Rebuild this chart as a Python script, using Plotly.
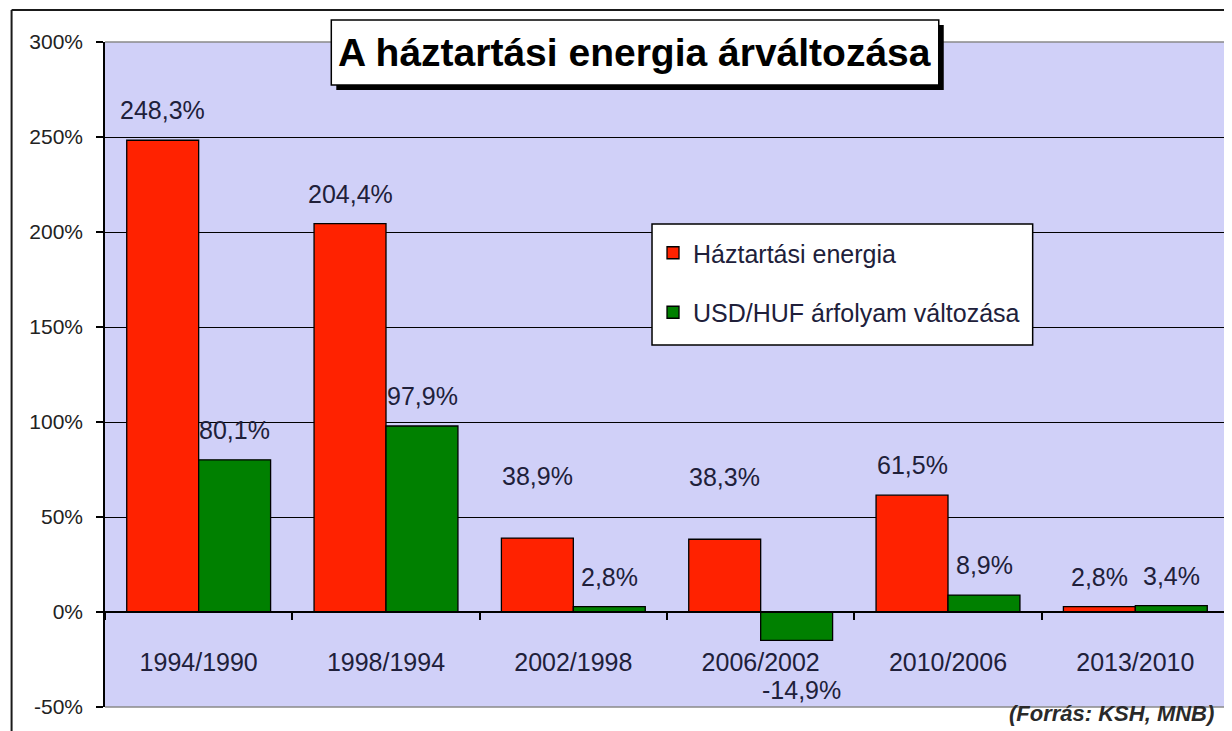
import plotly.graph_objects as go

categories = ["1994/1990", "1998/1994", "2002/1998", "2006/2002", "2010/2006", "2013/2010"]
energy = [248.3, 204.4, 38.9, 38.3, 61.5, 2.8]
usdhuf = [80.1, 97.9, 2.8, -14.9, 8.9, 3.4]
series_names = ["Háztartási energia", "USD/HUF árfolyam változása"]
y_ticks = [-50, 0, 50, 100, 150, 200, 250, 300]
y_ticktext = ["-50%", "0%", "50%", "100%", "150%", "200%", "250%", "300%"]
title_text = "A háztartási energia árváltozása"
source_text = "(Forrás: KSH, MNB)"

# label offsets (pixels) -- styling only
energy_label_shift = [14, 14, 46, 46, 14, 14]
usd_label_shift = [14, 14, 14, -34, 14, 14]

FONT = "Liberation Sans, Arial, sans-serif"
TXT = "#20203a"
RED = "#ff2200"
GREEN = "#008000"
PLOTBG = "#d0d0f8"

OFF = 8  # page body margin
# plot area in figure pixels
L, R, T, B = 104.5 - OFF, 1229.5 - OFF, 42.0 - OFF, 707.0 - OFF
def px(x):  # x in reference-picture pixels -> paper
    return (x - OFF - L) / (R - L)
def py(y):
    return (B - (y - OFF)) / (B - T)

fig = go.Figure()
fig.add_trace(go.Bar(x=categories, y=energy, name=series_names[0], legendgroup="a",
                     marker=dict(color=RED, line=dict(color="black", width=1.3))))
fig.add_trace(go.Bar(x=categories, y=usdhuf, name=series_names[1], legendgroup="b",
                     marker=dict(color=GREEN, line=dict(color="black", width=1.3))))

def fmt(v):
    return f"{v:.1f}".replace(".", ",") + "%"

annotations = []
for i, c in enumerate(categories):
    annotations.append(dict(x=c, y=energy[i], xref="x", yref="y", xshift=-36,
                            yshift=energy_label_shift[i], text=fmt(energy[i]), showarrow=False,
                            yanchor="bottom", font=dict(family=FONT, size=25, color=TXT)))
    neg = usdhuf[i] < 0
    annotations.append(dict(x=c, y=usdhuf[i], xref="x", yref="y", xshift=36 + (5 if neg else 0),
                            yshift=usd_label_shift[i], text=fmt(usdhuf[i]), showarrow=False,
                            yanchor="top" if neg else "bottom",
                            font=dict(family=FONT, size=25, color=TXT)))

annotations.append(dict(x=(px(331) + px(938)) / 2, y=(py(20) + py(84)) / 2, xref="paper", yref="paper",
                        text="<b>" + title_text + "</b>", showarrow=False, xanchor="center", yanchor="middle",
                        font=dict(family=FONT, size=39, color="black")))
annotations.append(dict(x=px(1216), y=py(713), xref="paper", yref="paper",
                        text="<b><i>" + source_text + "</i></b>", showarrow=False,
                        xanchor="right", yanchor="middle",
                        font=dict(family=FONT, size=22, color="#2a2a2a")))

shapes = [
    # outer chart border (left & top)
    dict(type="line", xref="paper", yref="paper", x0=px(11), x1=px(11), y0=py(745), y1=py(10),
         line=dict(color="#1a1a1a", width=2)),
    dict(type="line", xref="paper", yref="paper", x0=px(11), x1=px(1245), y0=py(10), y1=py(10),
         line=dict(color="#1a1a1a", width=2)),
    # grey plot frame top/right/bottom
    dict(type="line", xref="paper", yref="paper", x0=0, x1=1, y0=1, y1=1,
         line=dict(color="#8a8a8a", width=1.5), layer="above"),
    dict(type="line", xref="paper", yref="paper", x0=1, x1=1, y0=0, y1=1,
         line=dict(color="#8a8a8a", width=1.5), layer="above"),
    dict(type="line", xref="paper", yref="paper", x0=0, x1=1, y0=0, y1=0,
         line=dict(color="#8a8a8a", width=1.5), layer="above"),
    # title shadow and box
    dict(type="rect", xref="paper", yref="paper", x0=px(336), x1=px(944), y0=py(90), y1=py(25),
         fillcolor="black", line=dict(width=0), layer="above"),
    dict(type="rect", xref="paper", yref="paper", x0=px(331), x1=px(939), y0=py(85), y1=py(20),
         fillcolor="white", line=dict(color="black", width=1.5), layer="above"),
    # legend box
    dict(type="rect", xref="paper", yref="paper", x0=px(652), x1=px(1033), y0=py(345), y1=py(224),
         fillcolor="white", line=dict(color="black", width=1.5), layer="above"),
]

fig.update_layout(
    width=1232, height=731,
    margin=dict(l=L, r=1232 - R, t=T, b=731 - B, pad=0),
    paper_bgcolor="white",
    plot_bgcolor=PLOTBG,
    barmode="group", bargap=0.232, bargroupgap=0,
    font=dict(family=FONT, color=TXT),
    showlegend=True,
    legend=dict(x=px(653), xanchor="left", y=py(230), yanchor="top",
                bgcolor="rgba(0,0,0,0)", borderwidth=0,
                font=dict(family=FONT, size=25, color=TXT),
                tracegroupgap=24, traceorder="grouped"),
    annotations=annotations,
    shapes=shapes,
    xaxis=dict(
        type="category", anchor="free", position=1 / 7,
        showline=True, linecolor="black", linewidth=1.5,
        ticks="outside", ticklen=7, tickwidth=1.5, tickcolor="black", tickson="boundaries",
        showgrid=False, ticklabelstandoff=28,
        tickfont=dict(family=FONT, size=25, color=TXT),
        range=[-0.5, 5.5],
    ),
    yaxis=dict(
        range=[-50, 300], tickvals=y_ticks, ticktext=y_ticktext,
        showline=True, linecolor="black", linewidth=1.5,
        ticks="outside", ticklen=7, tickwidth=1.5, tickcolor="black",
        showgrid=True, gridcolor="black", gridwidth=1,
        zeroline=False,
        tickfont=dict(family=FONT, size=21, color="#222222"),
        ticklabelstandoff=9,
    ),
)

fig.write_html("out.html")
